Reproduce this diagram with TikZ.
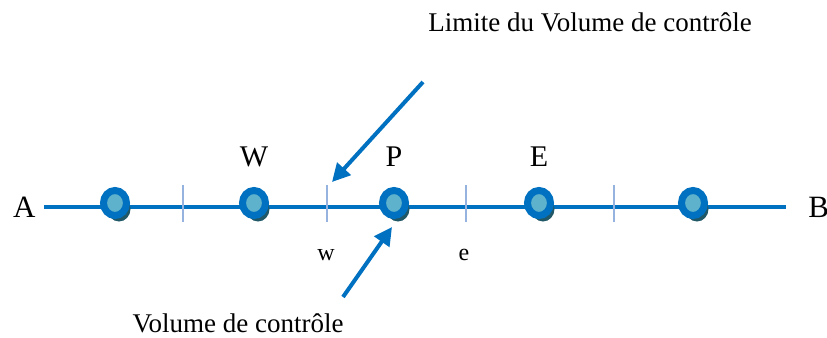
\documentclass[tikz,border=0pt]{standalone}
\usepackage{fontspec}
\setmainfont{Liberation Serif}
\usetikzlibrary{arrows.meta,positioning,shapes.geometric,shadows}

\definecolor{lineblue}{RGB}{0,112,192}
\definecolor{tickblue}{RGB}{150,178,222}
\definecolor{ballfill}{RGB}{95,178,204}
\definecolor{ballshadow}{RGB}{33,88,104}

\begin{document}
\begin{tikzpicture}[
            x=0.5pt, y=-0.5pt,
            point/.style={ellipse, draw=lineblue, line width=3.5pt, fill=ballfill,
                minimum width=11.5pt, minimum height=12.5pt, inner sep=0pt,
                drop shadow={shadow xshift=2pt, shadow yshift=-3pt, fill=ballshadow, opacity=1}},
            ends/.style={font=\fontsize{15.5}{18}\selectfont, inner sep=1pt},
            letter/.style={font=\fontsize{15}{18}\selectfont},
            face/.style={font=\fontsize{12}{14}\selectfont},
            note/.style={font=\fontsize{13.5}{16}\selectfont},
            tick/.style={draw=tickblue, line width=1pt},
            pointer/.style={draw=lineblue, line width=2pt, -{Triangle[length=9pt,width=9pt]}},
            >=Stealth
        ]
        \useasboundingbox (0,0) rectangle (827,338);

        % the axis from A to B
        \node[ends, anchor=east] (A) at (38,207) {A};
        \node[ends, anchor=west] (B) at (806,207) {B};
        \draw[lineblue, line width=2pt, shorten <=3pt, shorten >=10pt] (A.east) -- (B.west);

        % faces of the control volumes
        \foreach \x/\n in {183/f1, 327/fw, 466/fe, 614/f4} {
            \coordinate (\n top) at (\x,185);
            \coordinate (\n bot) at (\x,222);
            \draw[tick] (\n top) -- (\n bot);
        }

        % grid points
        \node[point] (p1) at (115,203) {};
        \node[point] (W) at (254,203) {};
        \node[point] (P) at (394,203) {};
        \node[point] (E) at (539,203) {};
        \node[point] (p5) at (693,203) {};

        \node[letter, above=6.5pt of W] (Wlab) {W};
        \node[letter, above=6.5pt of P] (Plab) {P};
        \node[letter, above=6.5pt of E] (Elab) {E};

        \node[face] (w) at (326,255) {w};
        \node[face] (e) at (464,255) {e};

        % notes and their arrows
        \node[note] (limite) at (590,22) {Limite du Volume de contrôle};
        \node[note] (volume) at (238,323) {Volume de contrôle};
        \coordinate (lim start) at (423,82);
        \coordinate (lim end) at (332,182);
        \coordinate (vol start) at (343,297);
        \draw[pointer] (lim start) -- (lim end);
        \draw[pointer] (vol start) -- ([xshift=-1pt,yshift=-4pt]P.south);
    \end{tikzpicture}
\end{document}
